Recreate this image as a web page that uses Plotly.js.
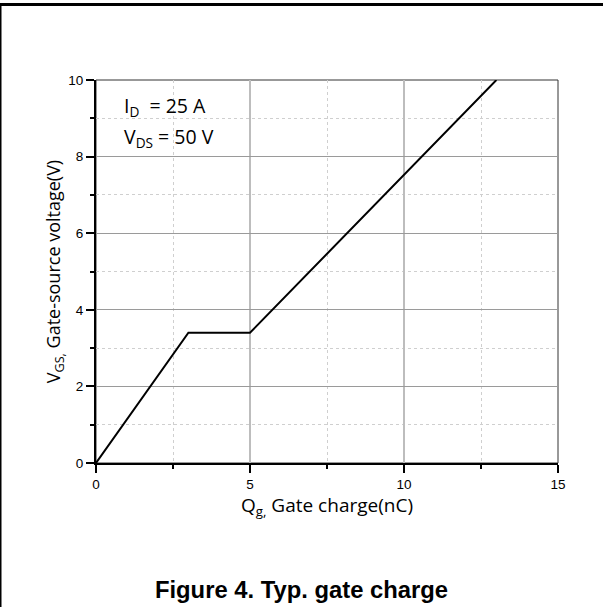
<!DOCTYPE html>
<html>
<head>
<meta charset="utf-8">
<script src="https://cdn.plot.ly/plotly-3.0.1.min.js"></script>
<style>
html,body{margin:0;padding:0;background:#fff;}
#chart{width:603px;height:607px;}
</style>
</head>
<body>
<div id="chart"></div>
<script>
// Data
const gateCharge = [0, 3, 5, 13];      // Qg (nC)
const gateVoltage = [0, 3.4, 3.4, 10]; // VGS (V)
const xTickVals = [0, 5, 10, 15];
const yTickVals = [0, 2, 4, 6, 8, 10];
const conditionLines = ["I<sub>D</sub>&nbsp;&nbsp;= 25 A", "V<sub>DS</sub> = 50 V"];

const L = 96, R = 45, T = 80, B = 144;
const W = 603 - L - R, H = 607 - T - B;
const px2x = p => (p - L) / W;
const py2y = p => (607 - B - p) / H;

const trace = {
  x: gateCharge, y: gateVoltage, mode: 'lines', type: 'scatter',
  line: {color: '#000', width: 2}, hoverinfo: 'skip', showlegend: false
};

const layout = {
  width: 603, height: 607,
  margin: {l: L, r: R, t: T, b: B},
  paper_bgcolor: '#fff', plot_bgcolor: '#fff',
  showlegend: false,
  title: {
    text: '<b>Figure 4. Typ. gate charge</b>',
    font: {family: 'Liberation Sans, Arial, sans-serif', size: 23.8, color: '#000'},
    x: 0.5, xanchor: 'center', y: 1 - 590/607, yanchor: 'middle', yref: 'container'
  },
  xaxis: {
    range: [0, 15], tickvals: xTickVals, ticks: 'outside', ticklen: 8, tickwidth: 2, tickcolor: '#000',
    showline: true, linecolor: '#000', linewidth: 2, zeroline: false,
    showgrid: true, gridcolor: '#bdbdbd', gridwidth: 1.5,
    tickfont: {family: 'Liberation Sans, Arial, sans-serif', size: 13.5, color: '#000'},
    minor: {dtick: 2.5, ticks: 'outside', ticklen: 4, tickwidth: 2, tickcolor: '#000',
            showgrid: true, gridcolor: '#cfcfcf', griddash: 'dot', gridwidth: 1},
    title: {text: 'Q<sub>g,</sub> Gate charge(nC)', standoff: 6,
            font: {family: 'Open Sans, Noto Sans, sans-serif', size: 19, color: '#000'}},
    fixedrange: true
  },
  yaxis: {
    range: [0, 10], tickvals: yTickVals, ticks: 'outside', ticklen: 8, tickwidth: 2, tickcolor: '#000',
    showline: true, linecolor: '#000', linewidth: 2, zeroline: false,
    showgrid: true, gridcolor: '#9a9a9a', gridwidth: 1,
    tickfont: {family: 'Liberation Sans, Arial, sans-serif', size: 13.5, color: '#000'},
    minor: {dtick: 1, ticks: 'outside', ticklen: 4, tickwidth: 2, tickcolor: '#000',
            showgrid: true, gridcolor: '#cfcfcf', griddash: 'dot', gridwidth: 1},
    title: {text: 'V<sub>GS,</sub> Gate-source voltage(V)', standoff: 3,
            font: {family: 'Open Sans, Noto Sans, sans-serif', size: 18, color: '#000'}},
    fixedrange: true
  },
  shapes: [
    {type: 'rect', xref: 'paper', yref: 'paper', x0: 0, x1: 1, y0: 0, y1: 1,
     line: {color: '#333', width: 1}, layer: 'below'},
    {type: 'line', xref: 'paper', yref: 'paper', x0: px2x(0), x1: px2x(603), y0: py2y(4.5), y1: py2y(4.5),
     line: {color: '#000', width: 3}},
    {type: 'line', xref: 'paper', yref: 'paper', x0: px2x(0.5), x1: px2x(0.5), y0: py2y(4), y1: py2y(607),
     line: {color: '#000', width: 2}}
  ],
  annotations: conditionLines.map((t, i) => ({
    text: t, xref: 'paper', yref: 'paper', x: px2x(122), y: py2y(106 + i * 31),
    xanchor: 'left', yanchor: 'middle', showarrow: false,
    font: {family: 'Open Sans, Noto Sans, sans-serif', size: 19.5, color: '#000'}
  }))
};

Plotly.newPlot('chart', [trace], layout, {staticPlot: true, displayModeBar: false});
</script>
</body>
</html>
